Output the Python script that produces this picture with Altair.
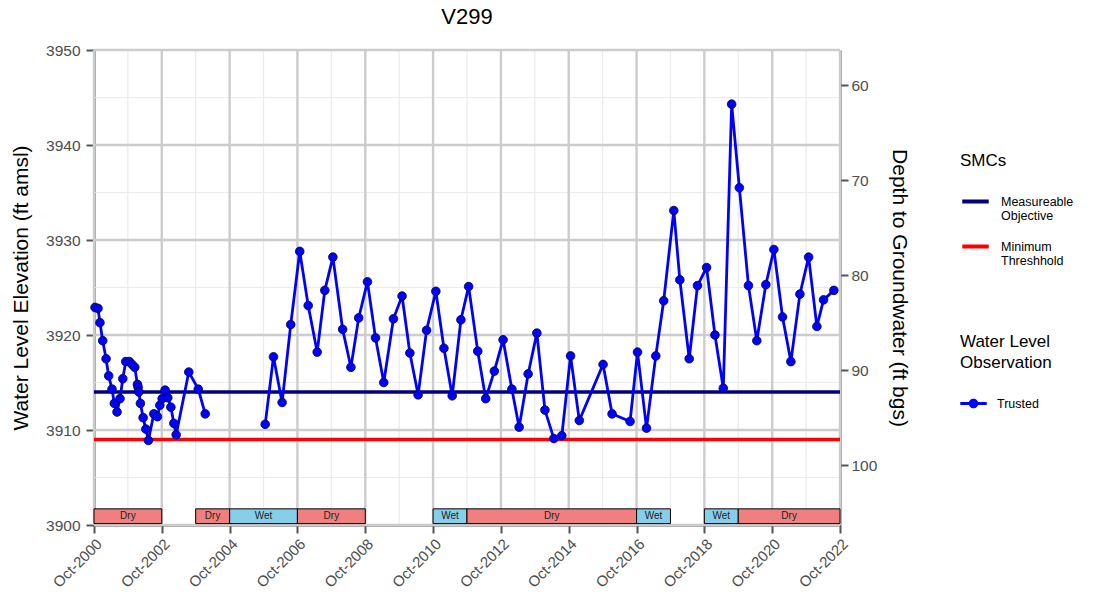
import altair as alt
import pandas as pd

# ---- Water level observations (well V299) ----
obs_dates = [
    "2000-10-12", "2000-11-13", "2000-12-04", "2001-01-03", "2001-02-08", "2001-03-08",
    "2001-04-13", "2001-05-08", "2001-06-06", "2001-07-08", "2001-08-07", "2001-09-08",
    "2001-10-17", "2001-11-15", "2001-12-14", "2002-01-12", "2002-01-19", "2002-01-27",
    "2002-02-13", "2002-03-14", "2002-04-12", "2002-05-10", "2002-07-07", "2002-08-15",
    "2002-09-10", "2002-10-05", "2002-11-06", "2002-12-05", "2003-01-07", "2003-02-08",
    "2003-03-05", "2003-07-19", "2003-10-29", "2004-01-12",
    "2005-10-19", "2006-01-16", "2006-04-19", "2006-07-21", "2006-10-26", "2007-01-25",
    "2007-05-02", "2007-07-23", "2007-10-18", "2008-01-31", "2008-04-29", "2008-07-22",
    "2008-10-24", "2009-01-19", "2009-04-18", "2009-07-31", "2009-11-01", "2010-01-24",
    "2010-04-23", "2010-07-23", "2010-10-31", "2011-01-26", "2011-04-25", "2011-07-28",
    "2011-10-19", "2012-01-25", "2012-04-20", "2012-07-22", "2012-10-24", "2013-01-27",
    "2013-04-15", "2013-07-21", "2013-10-23", "2014-01-18", "2014-04-24", "2014-07-19",
    "2014-10-21", "2015-01-23", "2015-10-06", "2016-01-11", "2016-07-23", "2016-10-11",
    "2017-01-16", "2017-04-26", "2017-07-20", "2017-11-06", "2018-01-10", "2018-04-21",
    "2018-07-19", "2018-10-25", "2019-01-23", "2019-04-23", "2019-07-22", "2019-10-13",
    "2020-01-19", "2020-04-18", "2020-07-24", "2020-10-19", "2021-01-20", "2021-04-20",
    "2021-07-26", "2021-10-28", "2022-01-25", "2022-04-07", "2022-07-27",
]
obs_elev = [
    3922.9, 3922.8, 3921.3, 3919.4, 3917.5, 3915.7,
    3914.3, 3912.8, 3911.9, 3913.3, 3915.4, 3917.2,
    3917.2, 3916.9, 3916.6, 3914.8, 3914.5, 3914.0,
    3912.8, 3911.3, 3910.1, 3908.9, 3911.7, 3911.4,
    3912.6, 3913.3, 3914.2, 3913.4, 3912.4, 3910.7,
    3909.5, 3916.1, 3914.3, 3911.7,
    3910.6, 3917.7, 3912.9, 3921.1, 3928.8, 3923.1,
    3918.2, 3924.7, 3928.2, 3920.6, 3916.6, 3921.8,
    3925.6, 3919.7, 3915.0, 3921.7, 3924.1, 3918.1,
    3913.7, 3920.5, 3924.6, 3918.6, 3913.6, 3921.6,
    3925.1, 3918.3, 3913.3, 3916.2, 3919.5, 3914.3,
    3910.3, 3915.9, 3920.2, 3912.1, 3909.1, 3909.4,
    3917.8, 3911.0, 3916.9, 3911.7, 3910.9, 3918.2,
    3910.2, 3917.8, 3923.6, 3933.1, 3925.8, 3917.5,
    3925.2, 3927.1, 3920.0, 3914.4, 3944.3, 3935.5,
    3925.2, 3919.4, 3925.3, 3929.0, 3921.9, 3917.2,
    3924.3, 3928.2, 3920.9, 3923.7, 3924.7,
]
obs_quality = "Trusted"

# ground surface elevation used for the depth axis (ft amsl)
ground_surface = 4006.3

# ---- Sustainable management criteria ----
smc_labels = ["Measureable|Objective", "Minimum|Threshhold"]
smc_values = [3914.0, 3909.0]
smc_colors = ["#000080", "#ff0000"]

# ---- Water year types ----
wy_starts = ["2000-10-01", "2003-10-01", "2004-10-01", "2006-10-01", "2010-10-01",
             "2011-10-01", "2016-10-01", "2018-10-01", "2019-10-01"]
wy_ends = ["2002-10-01", "2004-10-01", "2006-10-01", "2008-10-01", "2011-10-01",
           "2016-10-01", "2017-10-01", "2019-10-01", "2022-10-01"]
wy_types = ["Dry", "Dry", "Wet", "Dry", "Wet", "Dry", "Wet", "Wet", "Dry"]
wy_palette = {"Dry": "#f08080", "Wet": "#87ceeb"}

# ---- axis ranges / ticks ----
elev_min, elev_max = 3900, 3950
elev_major = [3900, 3910, 3920, 3930, 3940, 3950]
elev_minor = [3905, 3915, 3925, 3935, 3945]
depth_ticks = [60, 70, 80, 90, 100]
major_years = list(range(2000, 2023, 2))
minor_years = list(range(2001, 2022, 2))

FONT = "Liberation Sans"

# ---- tables ----
obs = pd.DataFrame({"date": pd.to_datetime(obs_dates), "elev": obs_elev})
obs["quality"] = obs_quality
# break the line where sampling stopped for more than a year
obs["segment"] = (obs["date"].diff().dt.days > 400).cumsum()
obs["depth"] = ground_surface - obs["elev"]

smc = pd.DataFrame({"label": smc_labels, "value": smc_values})

wy = pd.DataFrame({"start": pd.to_datetime(wy_starts), "end": pd.to_datetime(wy_ends),
                   "type": wy_types})
wy["mid"] = wy["start"] + (wy["end"] - wy["start"]) / 2
wy["fill"] = wy["type"].map(wy_palette)

oct_first = lambda years: pd.to_datetime([f"{y}-10-01" for y in years])
vmajor = pd.DataFrame({"date": oct_first(major_years)})
vminor = pd.DataFrame({"date": oct_first(minor_years)})
hmajor = pd.DataFrame({"elev": elev_major})
hminor = pd.DataFrame({"elev": elev_minor})

x_scale = alt.Scale(domain=[alt.DateTime(year=2000, month=10, date=1),
                            alt.DateTime(year=2022, month=10, date=1)], nice=False)
y_scale = alt.Scale(domain=[elev_min, elev_max], nice=False, zero=False)

x_ticks = [alt.DateTime(year=y, month=10, date=1) for y in major_years]

# one shared axis definition per channel so the layers merge into a single axis
x_axis = alt.Axis(values=x_ticks, format="%b-%Y", labelAngle=-45, title=None, grid=False)
y_axis = alt.Axis(values=elev_major, format="d", title="Water Level Elevation (ft amsl)",
                  grid=False, titlePadding=14, labelPadding=6, labelFontSize=15.5)

# ---- layers ----
grid_minor_v = alt.Chart(vminor).mark_rule(color="#ebebeb", strokeWidth=1.2).encode(
    x=alt.X("date:T", scale=x_scale, axis=x_axis))
grid_minor_h = alt.Chart(hminor).mark_rule(color="#ebebeb", strokeWidth=1.2).encode(
    y=alt.Y("elev:Q", scale=y_scale, axis=y_axis))
grid_major_v = alt.Chart(vmajor).mark_rule(color="#cccccc", strokeWidth=2.4).encode(
    x=alt.X("date:T", scale=x_scale, axis=x_axis))
grid_major_h = alt.Chart(hmajor).mark_rule(color="#cccccc", strokeWidth=2.4).encode(
    y=alt.Y("elev:Q", scale=y_scale, axis=y_axis))

bands = alt.Chart(wy).mark_rect(stroke="black", strokeWidth=1).encode(
    x=alt.X("start:T", scale=x_scale, axis=x_axis),
    x2="end:T",
    y=alt.Y(datum=3900.15, scale=y_scale, axis=y_axis),
    y2=alt.Y2(datum=3901.7),
    fill=alt.Fill("fill:N", scale=None),
)
band_text = alt.Chart(wy).mark_text(font=FONT, fontSize=10, color="#222222").encode(
    x=alt.X("mid:T", scale=x_scale, axis=x_axis),
    y=alt.Y(datum=3900.92, scale=y_scale, axis=y_axis),
    text="type:N",
)

smc_lines = alt.Chart(smc).mark_rule(strokeWidth=3.6).encode(
    y=alt.Y("value:Q", scale=y_scale, axis=y_axis),
    color=alt.Color(
        "label:N",
        scale=alt.Scale(domain=smc_labels, range=smc_colors),
        legend=alt.Legend(
            title="SMCs", orient="none", legendX=866, legendY=103,
            symbolType="stroke", symbolStrokeWidth=4, symbolSize=700,
            labelExpr="split(datum.label, '|')", labelFontSize=12.5,
            titleFontSize=17, titlePadding=16, rowPadding=8, labelOffset=10,
        ),
    ),
)

observations = alt.Chart(obs).mark_line(
    strokeWidth=2.8,
    point=alt.OverlayMarkDef(filled=True, size=75, stroke="#000044", strokeWidth=0.8),
).encode(
    x=alt.X("date:T", scale=x_scale, axis=x_axis),
    y=alt.Y("elev:Q", scale=y_scale, axis=y_axis),
    color=alt.Color(
        "quality:N",
        scale=alt.Scale(domain=[obs_quality], range=["#0000ff"]),
        legend=alt.Legend(
            title=["Water Level", "Observation"], orient="none", legendX=866, legendY=284,
            symbolType="M-1,-0.11L1,-0.11L1,0.11L-1,0.11Z M-0.36,0A0.36,0.36 0 1,1 0.36,0A0.36,0.36 0 1,1 -0.36,0Z",
            symbolSize=700, symbolFillColor="#0000ff", symbolStrokeWidth=0,
            labelFontSize=12.5, titleFontSize=17, titleLineHeight=21, titlePadding=18,
            labelOffset=10,
        ),
    ),
    detail="segment:N",
)

depth_axis = alt.Chart(obs).mark_point(opacity=0).encode(
    x=alt.X("date:T", scale=x_scale, axis=x_axis),
    y=alt.Y("depth:Q",
            scale=alt.Scale(domain=[ground_surface - elev_max, ground_surface - elev_min],
                            reverse=True, nice=False, zero=False),
            axis=alt.Axis(orient="right", values=depth_ticks,
                          title="Depth to Groundwater (ft bgs)", grid=False,
                          titlePadding=12, labelFontSize=15.5)),
)

main = alt.layer(
    grid_minor_v, grid_minor_h, grid_major_v, grid_major_h,
    bands, band_text, smc_lines, observations,
).resolve_scale(color="independent")

chart = alt.layer(main, depth_axis).resolve_scale(y="independent").properties(
    width=746, height=475,
    title=alt.Title("V299", fontSize=22, font=FONT, fontWeight="normal", offset=14,
                    anchor="middle", color="black"),
    autosize=alt.AutoSizeParams(type="none"),
    padding={"left": 94, "top": 50, "right": 257, "bottom": 75},
).configure_view(stroke=None).configure_axis(
    labelFont=FONT, titleFont=FONT, labelFontSize=15, titleFontSize=21,
    labelColor="#4d4d4d", titleColor="black", titleFontWeight="normal",
    domainColor="#555555", domainWidth=2, tickColor="#555555", tickWidth=2, tickSize=8,
    labelPadding=3,
).configure_legend(
    labelFont=FONT, titleFont=FONT, titleFontWeight="normal", titleColor="black",
    labelColor="black",
)

chart.save("out.html", embed_options={"renderer": "svg", "actions": False})
